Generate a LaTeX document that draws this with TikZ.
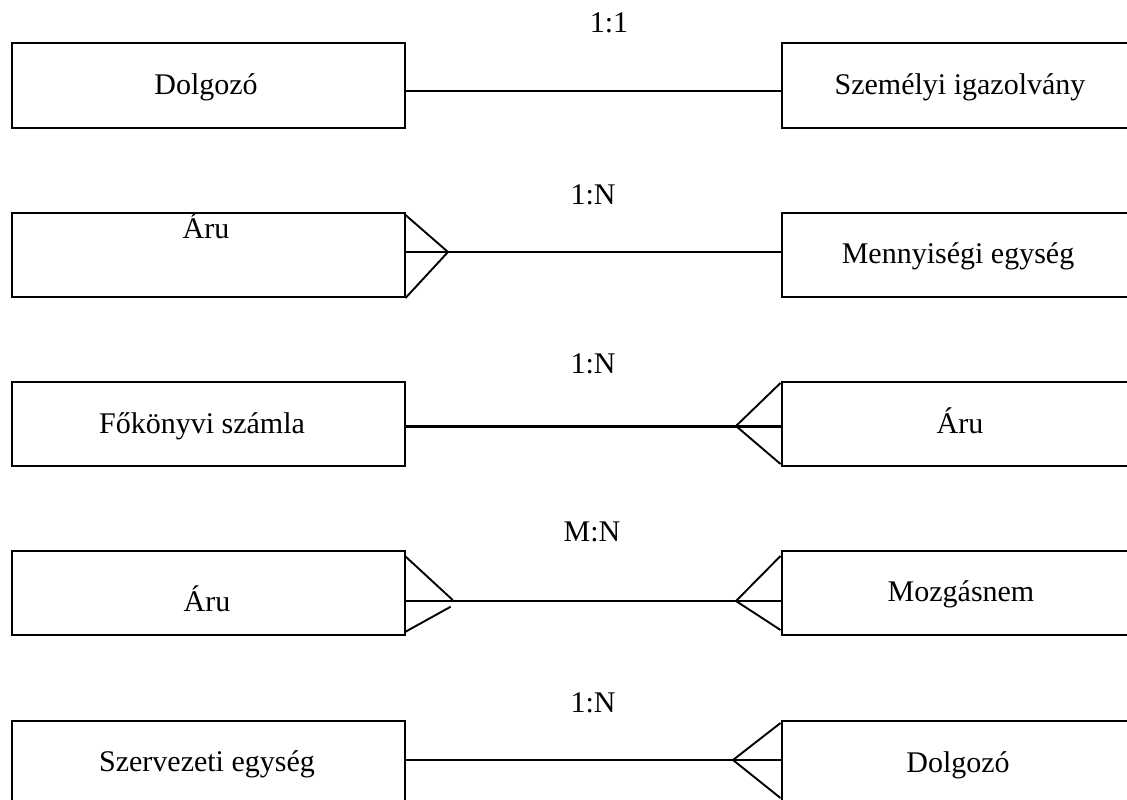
\documentclass[tikz,border=0pt]{standalone}
\usepackage{fontspec}
\setmainfont{Liberation Serif}
\begin{document}
\begin{tikzpicture}[x=1pt,y=-1pt,
  entity/.style={draw, rectangle, line width=2pt, inner sep=0pt, anchor=north west, minimum height=84pt},
  lbox/.style={entity, minimum width=393pt},
  rbox/.style={entity, minimum width=360pt},
  txt/.style={anchor=base, inner sep=0pt, font=\fontsize{30}{36}\selectfont},
  rel/.style={line width=1.9pt},
  crow/.style={line width=1.9pt}]
\useasboundingbox (0,0) rectangle (1127,800);
\fill[white] (0,0) rectangle (1127,800);

% row 1
\node[lbox] (l1) at (10.5,42.5) {};
\node[rbox] (r1) at (780.5,42.5) {};
\node[txt] (t1l) at (206,95) {Dolgozó};
\node[txt] (t1r) at (960,95) {Személyi igazolvány};
\node[txt] (c1) at (609,33) {1:1};
\draw[rel] (l1.east |- 0,91) -- (r1.west |- 0,91);

% row 2
\node[lbox] (l2) at (10.5,212) {};
\node[rbox] (r2) at (780.5,212) {};
\node[txt] (t2l) at (206,238) {Áru};
\node[txt] (t2r) at (958,263) {Mennyiségi egység};
\node[txt] (c2) at (593,204) {1:N};
\draw[rel] (l2.east |- 0,252) -- (r2.west |- 0,252);
\draw[crow] (l2.east |- 0,215) -- (448,252) -- (l2.south east);

% row 3
\node[lbox] (l3) at (10.5,381) {};
\node[rbox] (r3) at (780.5,381) {};
\node[txt] (t3l) at (202,433) {Főkönyvi számla};
\node[txt] (t3r) at (960,433) {Áru};
\node[txt] (c3) at (593,373) {1:N};
\draw[line width=3pt] (l3.east |- 0,426) -- (r3.west |- 0,426);
\draw[crow] (r3.west |- 0,383) -- (736,426) -- (r3.west |- 0,464);

% row 4
\node[lbox] (l4) at (10.5,550) {};
\node[rbox] (r4) at (780.5,550) {};
\node[txt] (t4l) at (207,611.7) {Áru};
\node[txt] (t4r) at (961,601.7) {Mozgásnem};
\node[txt] (c4) at (592,541.7) {M:N};
\draw[rel] (405,601) -- (r4.west |- 0,601);
\draw[crow] (405,556) -- (452.7,600);
\draw[crow] (405,632) -- (450.7,606.7);
\draw[crow] (r4.west |- 0,556) -- (736,601) -- (r4.west |- 0,630);

% row 5
\node[lbox] (l5) at (10.5,720) {};
\node[rbox] (r5) at (780.5,720) {};
\node[txt] (t5l) at (207,771.7) {Szervezeti egység};
\node[txt] (t5r) at (958,772) {Dolgozó};
\node[txt] (c5) at (593,712) {1:N};
\draw[rel] (l5.east |- 0,760) -- (r5.west |- 0,760);
\draw[crow] (r5.west |- 0,723) -- (733,760) -- (r5.west |- 0,798);
\end{tikzpicture}
\end{document}
